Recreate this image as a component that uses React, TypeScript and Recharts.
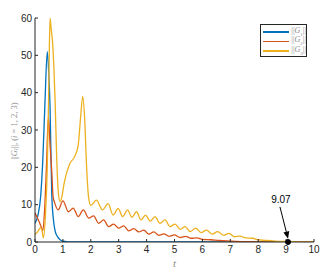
import React from 'react';
import { LineChart, Line, XAxis, YAxis, ReferenceDot, ReferenceLine } from 'recharts';

document.body.style.margin = '0';

// ||G1||
const g1T = [0, 0.1, 0.2, 0.28, 0.36, 0.44, 0.5, 0.54, 0.6, 0.66, 0.72, 0.8, 0.9, 1.0, 1.2, 1.5, 10];
const g1V = [5, 7, 12, 22, 38, 51, 44, 36, 13, 6, 3, 1.5, 0.6, 0.2, 0.05, 0, 0];

// ||G2||
const g2T = [0, 0.1, 0.2, 0.28, 0.34, 0.41, 0.48, 0.54, 0.6, 0.65, 0.7, 0.83, 1.0, 1.2, 1.37, 1.55, 1.73, 1.93, 2.1, 2.28, 2.46, 2.64, 2.82, 3.0, 3.18, 3.36, 3.54, 3.72, 3.9, 4.08, 4.26, 4.44, 4.62, 4.8, 5.0, 5.2, 5.4, 5.6, 5.8, 6.0, 6.3, 6.6, 7.0, 7.5, 8.0, 8.5, 10];
const g2V = [7.8, 6.2, 4.5, 3, 8, 20, 33.5, 26, 19, 12, 10.6, 8.6, 11, 8.1, 9.1, 6.8, 8.6, 6.4, 7.0, 5.0, 5.9, 4.1, 4.8, 3.7, 4.3, 3.0, 3.6, 2.7, 3.2, 2.1, 2.7, 1.8, 2.2, 1.5, 1.9, 1.2, 1.5, 1.0, 1.1, 0.7, 0.6, 0.4, 0.25, 0.1, 0.05, 0, 0];

// ||G3||
const g3T = [0, 0.1, 0.2, 0.25, 0.3, 0.38, 0.44, 0.48, 0.51, 0.54, 0.58, 0.63, 0.68, 0.72, 0.78, 0.84, 0.9, 0.96, 1.05, 1.25, 1.43, 1.55, 1.63, 1.71, 1.78, 1.85, 1.92, 2.0, 2.2, 2.42, 2.62, 2.8, 2.98, 3.14, 3.32, 3.47, 3.64, 3.8, 3.96, 4.13, 4.3, 4.48, 4.66, 4.84, 5.02, 5.2, 5.38, 5.56, 5.76, 5.95, 6.15, 6.35, 6.55, 6.75, 6.95, 7.15, 7.35, 7.55, 7.8, 8.0, 8.3, 8.6, 9.0, 9.5, 10];
const g3V = [2, 2.8, 3.8, 3.2, 1.1, 8, 20, 35, 50, 60, 57, 53.5, 46, 38, 22, 13, 10.8, 12, 16, 21, 23, 26, 33, 39, 33, 20, 12, 9.8, 11.2, 8.6, 10.3, 7.2, 9, 6.8, 8.6, 6.6, 8.1, 5.9, 7.2, 5.6, 6.8, 5.0, 5.9, 4.1, 4.8, 3.4, 4.1, 2.8, 3.7, 2.5, 3.2, 2.1, 2.8, 1.8, 2.3, 1.4, 1.6, 1.1, 1.0, 0.6, 0.4, 0.25, 0.15, 0.05, 0];

const xTicks = [0, 1, 2, 3, 4, 5, 6, 7, 8, 9, 10];
const yTicks = [0, 10, 20, 30, 40, 50, 60];

const markT = 9.07;
const markLabel = '9.07';

const toRows = (ts: number[], vs: number[]) => ts.map((t, i) => ({ t, v: vs[i] }));

const series = [
    { name: '1', color: '#0072BD', data: toRows(g1T, g1V) },
    { name: '2', color: '#D95319', data: toRows(g2T, g2V) },
    { name: '3', color: '#EDB120', data: toRows(g3T, g3V) },
];

const AX = '#262626';
const tickFont = { fontSize: 10, fill: AX, fontFamily: 'Liberation Sans, Arial, sans-serif' };
const blank = () => '';

const YLabel = (props: any) => {
    const vb = props.viewBox || {};
    const cx = vb.x + 14;
    const cy = vb.y + vb.height / 2 + 1;
    return (
        <text
            x={cx}
            y={cy}
            transform={`rotate(-90 ${cx} ${cy})`}
            textAnchor="middle"
            dominantBaseline="central"
            fontFamily="Liberation Serif, serif"
            fontSize={8.5}
            fill="#8c8c8c"
        >
            ||<tspan fontStyle="italic">G</tspan>
            <tspan fontStyle="italic" fontSize={6} dy={2}>i</tspan>
            <tspan dy={-2}>||, (</tspan>
            <tspan fontStyle="italic">i</tspan> = 1, 2, 3)
        </text>
    );
};

const Arrow = (props: any) => {
    const { x1, y1, x2, y2 } = props;
    const dx = x2 - x1;
    const dy = y2 - y1;
    const len = Math.sqrt(dx * dx + dy * dy);
    const ux = dx / len;
    const uy = dy / len;
    const hl = 7;
    const hw = 3;
    const bx = x2 - ux * hl;
    const by = y2 - uy * hl;
    return (
        <g>
            <line x1={x1} y1={y1} x2={bx} y2={by} stroke="#000" strokeWidth={1} />
            <polygon
                points={`${x2},${y2} ${bx - uy * hw},${by + ux * hw} ${bx + uy * hw},${by - ux * hw}`}
                fill="#000"
            />
            <text x={x1 + 1} y={y1 - 4} textAnchor="middle" fontSize={10} fill="#000" fontFamily="Liberation Sans, Arial, sans-serif">
                {markLabel}
            </text>
        </g>
    );
};

const LegendBox = () => (
    <div
        style={{
            position: 'absolute',
            left: 260,
            top: 24,
            width: 47,
            height: 33,
            border: `1px solid ${AX}`,
            background: '#fff',
            boxSizing: 'border-box',
            padding: '2px 0 0 2px',
        }}
    >
        {series.map((s) => (
            <div key={s.name} style={{ display: 'flex', alignItems: 'center', height: 9.7 }}>
                <div style={{ width: 28, height: 1.5, background: s.color }} />
                <span style={{ marginLeft: 2, fontSize: 8, color: '#8c8c8c', fontFamily: 'Liberation Serif, serif', lineHeight: '9px' }}>
                    ||<i>G</i>
                    <sub style={{ fontSize: 5 }}>{s.name}</sub>||
                </span>
            </div>
        ))}
    </div>
);

export default function App() {
    return (
        <div style={{ position: 'relative', width: 329, height: 275, background: '#fff' }}>
            <LineChart width={329} height={275} margin={{ top: 18, right: 15, bottom: 0, left: 0 }}>
                <XAxis
                    dataKey="t"
                    type="number"
                    domain={[0, 10]}
                    ticks={xTicks}
                    height={33}
                    tickSize={-3}
                    tickMargin={7}
                    tick={tickFont}
                    stroke={AX}
                    allowDataOverflow
                    label={{
                        value: 't',
                        position: 'insideBottom',
                        offset: 8,
                        fontSize: 11,
                        fontStyle: 'italic',
                        fill: '#8c8c8c',
                        fontFamily: 'Liberation Serif, serif',
                    }}
                />
                <XAxis
                    xAxisId="top"
                    orientation="top"
                    dataKey="t"
                    type="number"
                    domain={[0, 10]}
                    ticks={xTicks}
                    height={0}
                    tickSize={-3}
                    tickFormatter={blank}
                    stroke={AX}
                />
                <YAxis
                    yAxisId="l"
                    type="number"
                    domain={[0, 60]}
                    ticks={yTicks}
                    width={35}
                    tickSize={-3}
                    tickMargin={6}
                    tick={tickFont}
                    stroke={AX}
                    allowDataOverflow
                    label={{ content: YLabel }}
                />
                <YAxis
                    yAxisId="r"
                    orientation="right"
                    type="number"
                    domain={[0, 60]}
                    ticks={yTicks}
                    width={0}
                    tickSize={-3}
                    tickFormatter={blank}
                    stroke={AX}
                />
                {series.map((s) => (
                    <Line
                        key={s.name}
                        data={s.data}
                        dataKey="v"
                        yAxisId="l"
                        type="monotone"
                        stroke={s.color}
                        strokeWidth={1.3}
                        dot={false}
                        isAnimationActive={false}
                    />
                ))}
                <ReferenceLine
                    yAxisId="l"
                    segment={[
                        { x: 8.78, y: 9.4 },
                        { x: markT, y: 0.9 },
                    ]}
                    shape={Arrow}
                    ifOverflow="visible"
                />
                <ReferenceDot yAxisId="l" x={markT} y={0} r={2.5} fill="#000" stroke="#000" ifOverflow="visible" />
            </LineChart>
            <LegendBox />
        </div>
    );
}
